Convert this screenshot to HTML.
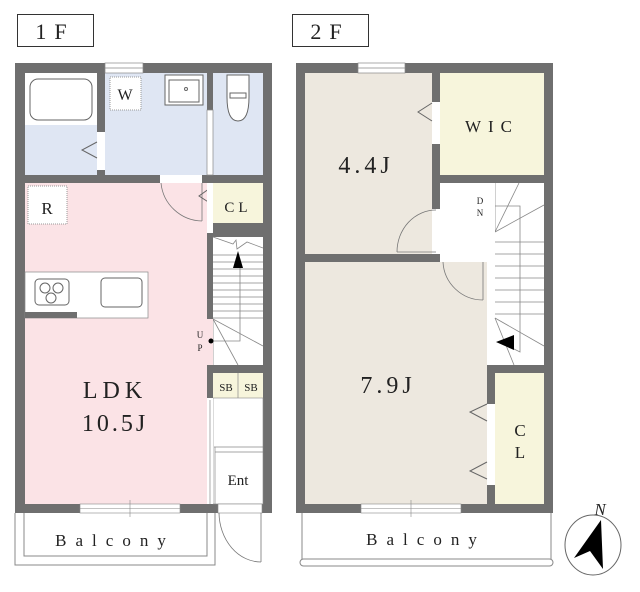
<!DOCTYPE html>
<html><head><meta charset="utf-8"><style>
html,body{margin:0;padding:0;background:#fff;width:640px;height:592px;overflow:hidden}
text{font-family:"Liberation Serif","Noto Serif CJK SC",serif;fill:#222}
</style></head><body>
<svg width="640" height="592" viewBox="0 0 640 592" xmlns="http://www.w3.org/2000/svg">
<!-- titles -->
<rect x="17.5" y="14.5" width="76" height="32" fill="#fff" stroke="#333"/>
<text x="55" y="39" font-size="22" text-anchor="middle" letter-spacing="8">1F</text>
<rect x="292.5" y="14.5" width="76" height="32" fill="#fff" stroke="#333"/>
<text x="330" y="39" font-size="22" text-anchor="middle" letter-spacing="8">2F</text>

<!-- ===== 1F ===== -->
<rect x="15" y="63" width="257" height="450" fill="#6f6f6f"/>
<!-- bath -->
<rect x="25" y="73" width="72" height="102" fill="#dfe6f3"/>
<rect x="25" y="73" width="72" height="52" fill="#fff"/>
<rect x="30" y="79" width="62" height="41" rx="8" fill="#fff" stroke="#666"/>
<rect x="97" y="132" width="8" height="38" fill="#fff"/>
<polyline points="97,142 82,150 97,158" fill="none" stroke="#666"/>
<!-- W -->
<rect x="105" y="73" width="102" height="102" fill="#dfe6f3"/>
<rect x="110" y="77" width="31" height="33" fill="#fff" stroke="#999" stroke-dasharray="1,1"/>
<text x="125" y="100" font-size="16" text-anchor="middle">W</text>
<rect x="165" y="75" width="38" height="30" fill="#fff" stroke="#666"/>
<rect x="169" y="80" width="30" height="22" fill="none" stroke="#666"/>
<circle cx="186" cy="89" r="1.5" fill="none" stroke="#666"/>
<!-- toilet -->
<rect x="213" y="73" width="50" height="102" fill="#dfe6f3"/>
<rect x="207" y="110" width="6" height="65" fill="#fff" stroke="#888" stroke-width="0.7"/>
<path d="M227,75 h22 v22 q0,24 -11,24 q-11,0 -11,-24z" fill="#fff" stroke="#666"/>
<rect x="230" y="93" width="16" height="5" fill="#fff" stroke="#666"/>
<rect x="105" y="63" width="38" height="10" fill="#fff" stroke="#888" stroke-width="0.7"/>
<line x1="105" y1="68" x2="143" y2="68" stroke="#888" stroke-width="0.7"/>
<!-- LDK -->
<rect x="25" y="183" width="182" height="321" fill="#fbe3e6"/>
<rect x="28" y="186" width="39" height="38" fill="#fff" stroke="#999" stroke-dasharray="1,1"/>
<text x="47" y="214" font-size="17" text-anchor="middle">R</text>
<rect x="160" y="175" width="42" height="8" fill="#fff"/>
<path d="M161,183 A42,42 0 0 0 202,221" fill="none" stroke="#777" stroke-width="0.8"/>
<line x1="202" y1="183" x2="202" y2="221" stroke="#777" stroke-width="0.8"/>
<polyline points="213,186 199,196 213,205" fill="none" stroke="#666"/>
<rect x="207" y="183" width="6" height="50" fill="#fff"/>
<!-- CL -->
<rect x="213" y="183" width="50" height="40" fill="#f7f5dc"/>
<text x="238" y="212" font-size="15" text-anchor="middle" letter-spacing="4">CL</text>
<!-- kitchen -->
<rect x="25" y="272" width="123" height="46" fill="#fff" stroke="#888" stroke-width="0.7"/>
<rect x="25" y="312" width="52" height="6" fill="#6f6f6f"/>
<rect x="35" y="279" width="34" height="26" rx="4" fill="#fff" stroke="#666"/>
<circle cx="45" cy="288" r="5" fill="none" stroke="#666"/>
<circle cx="58" cy="288" r="5" fill="none" stroke="#666"/>
<circle cx="51" cy="298" r="5" fill="none" stroke="#666"/>
<rect x="101" y="278" width="41" height="29" rx="4" fill="#fff" stroke="#666"/>
<!-- stairs 1F -->
<rect x="213" y="237" width="50" height="128" fill="#fff"/>
<g stroke="#888" stroke-width="0.8">
<line x1="213" y1="255" x2="263" y2="255"/><line x1="213" y1="262" x2="263" y2="262"/>
<line x1="213" y1="269" x2="263" y2="269"/><line x1="213" y1="276" x2="263" y2="276"/>
<line x1="213" y1="283" x2="263" y2="283"/><line x1="213" y1="290" x2="263" y2="290"/>
<line x1="213" y1="297" x2="263" y2="297"/><line x1="213" y1="304" x2="263" y2="304"/>
<line x1="213" y1="311" x2="263" y2="311"/><line x1="213" y1="318" x2="263" y2="318"/>
<line x1="213" y1="319" x2="263" y2="346"/><line x1="213" y1="319" x2="238" y2="365"/>
<line x1="213" y1="319" x2="213" y2="365"/>
<polyline points="213,237 233,244 236,240 237,249 247,242 263,248" fill="none"/>
<polyline points="211,341 240,341 240,262" fill="none"/>
</g>
<polygon points="238,251 233,268 243,268" fill="#000"/>
<rect x="207" y="319" width="6" height="46" fill="#fbe3e6"/>
<circle cx="211" cy="341" r="2.5" fill="#000"/>
<text x="200" y="338" font-size="9" text-anchor="middle">U</text>
<text x="200" y="351" font-size="9" text-anchor="middle">P</text>
<!-- SB -->
<rect x="213" y="373" width="50" height="25" fill="#f7f5dc"/>
<line x1="238" y1="373" x2="238" y2="398" stroke="#888" stroke-width="0.7"/>
<text x="226" y="391" font-size="11" text-anchor="middle">SB</text>
<text x="251" y="391" font-size="11" text-anchor="middle">SB</text>
<rect x="213" y="398" width="50" height="106" fill="#fff" stroke="#888" stroke-width="0.6"/>
<rect x="207" y="398" width="6" height="106" fill="#fff"/>
<line x1="210" y1="400" x2="210" y2="504" stroke="#888" stroke-width="0.7"/>
<line x1="214" y1="447" x2="263" y2="447" stroke="#888" stroke-width="0.7"/>
<line x1="215" y1="452" x2="263" y2="452" stroke="#888" stroke-width="0.7"/>
<line x1="215" y1="447" x2="215" y2="504" stroke="#888" stroke-width="0.7"/>
<text x="238" y="485" font-size="15" text-anchor="middle">Ent</text>
<rect x="218" y="504" width="44" height="9" fill="#fff" stroke="#888" stroke-width="0.6"/>
<path d="M219,513 A42,50 0 0 0 261,562" fill="none" stroke="#777" stroke-width="0.8"/>
<line x1="261" y1="513" x2="261" y2="562" stroke="#777" stroke-width="0.8"/>
<!-- window bottom -->
<rect x="80" y="504" width="100" height="9" fill="#fff" stroke="#888" stroke-width="0.6"/>
<line x1="80" y1="508.5" x2="180" y2="508.5" stroke="#888" stroke-width="0.6"/>
<line x1="130" y1="500" x2="130" y2="517" stroke="#888" stroke-width="0.6"/>
<text x="115" y="398" font-size="24" text-anchor="middle" letter-spacing="5">LDK</text>
<text x="115" y="431" font-size="24" text-anchor="middle" letter-spacing="3">10.5J</text>
<!-- balcony 1F -->
<polyline points="15,513 15,565 215,565 215,513" fill="none" stroke="#888"/>
<polyline points="24,513 24,556 207,556 207,513" fill="none" stroke="#888"/>
<text x="115" y="546" font-size="17" text-anchor="middle" letter-spacing="9">Balcony</text>

<!-- ===== 2F ===== -->
<rect x="296" y="63" width="257" height="450" fill="#6f6f6f"/>
<rect x="305" y="73" width="127" height="181" fill="#ede8df"/>
<rect x="358" y="63" width="47" height="10" fill="#fff" stroke="#888" stroke-width="0.7"/>
<line x1="358" y1="68" x2="405" y2="68" stroke="#888" stroke-width="0.7"/>
<text x="366" y="173" font-size="24" text-anchor="middle" letter-spacing="4">4.4J</text>
<rect x="432" y="102" width="8" height="42" fill="#fff"/>
<polyline points="432,103 418,112 432,121" fill="none" stroke="#666"/>
<rect x="432" y="209" width="8" height="45" fill="#fff"/>
<path d="M397,252 A39,42 0 0 1 436,210" fill="none" stroke="#777" stroke-width="0.8"/>
<line x1="397" y1="252" x2="436" y2="252" stroke="#777" stroke-width="0.8"/>
<rect x="440" y="73" width="104" height="102" fill="#f7f5dc"/>
<text x="492" y="132" font-size="17" text-anchor="middle" letter-spacing="7">WIC</text>
<!-- stairs 2F -->
<rect x="440" y="183" width="104" height="182" fill="#fff"/>
<rect x="440" y="183" width="104" height="71" fill="#fff"/>
<g stroke="#888" stroke-width="0.8">
<line x1="495" y1="183" x2="495" y2="232"/>
<line x1="495" y1="232" x2="519" y2="183"/>
<line x1="495" y1="232" x2="544" y2="205"/>
<polyline points="493,206 520,206 520,352 500,342" fill="none"/>
<line x1="495" y1="242" x2="544" y2="242"/><line x1="495" y1="254" x2="544" y2="254"/>
<line x1="495" y1="266" x2="544" y2="266"/><line x1="495" y1="278" x2="544" y2="278"/>
<line x1="495" y1="290" x2="544" y2="290"/><line x1="495" y1="302" x2="544" y2="302"/>
<line x1="495" y1="314" x2="544" y2="314"/>
<line x1="495" y1="318" x2="544" y2="346"/><line x1="495" y1="318" x2="514" y2="365"/>
</g>
<polygon points="496,342 514,335 514,350" fill="#000"/>
<circle cx="491" cy="207" r="2.5" fill="#000"/>
<text x="480" y="204" font-size="9" text-anchor="middle">D</text>
<text x="480" y="216" font-size="9" text-anchor="middle">N</text>
<!-- 7.9J -->
<rect x="305" y="262" width="182" height="242" fill="#ede8df"/>
<rect x="487" y="183" width="8" height="49" fill="#fff"/>
<rect x="442" y="254" width="42" height="8" fill="#fff"/>
<path d="M443,262 A40,40 0 0 0 483,300" fill="none" stroke="#777" stroke-width="0.8"/>
<line x1="483" y1="262" x2="483" y2="300" stroke="#777" stroke-width="0.8"/>
<text x="388" y="393" font-size="24" text-anchor="middle" letter-spacing="4">7.9J</text>
<rect x="495" y="373" width="49" height="131" fill="#f7f5dc"/>
<rect x="487" y="404" width="8" height="81" fill="#fff"/>
<polyline points="487,404 470,412 487,421" fill="none" stroke="#666"/>
<polyline points="487,462 470,471 487,479" fill="none" stroke="#666"/>
<text x="520" y="436" font-size="17" text-anchor="middle">C</text>
<text x="520" y="458" font-size="17" text-anchor="middle">L</text>
<rect x="361" y="504" width="100" height="9" fill="#fff" stroke="#888" stroke-width="0.6"/>
<line x1="361" y1="508.5" x2="461" y2="508.5" stroke="#888" stroke-width="0.6"/>
<line x1="411" y1="500" x2="411" y2="517" stroke="#888" stroke-width="0.6"/>
<!-- balcony 2F -->
<polyline points="302,513 302,563 551,563 551,513" fill="none" stroke="#888"/>
<rect x="300" y="559" width="253" height="7" rx="3.5" fill="#fff" stroke="#888"/>
<text x="426" y="545" font-size="17" text-anchor="middle" letter-spacing="9">Balcony</text>
<!-- compass -->
<ellipse cx="593" cy="545" rx="28" ry="30" fill="#fff" stroke="#666"/>
<polygon points="601,520 574,558 590,551 603,569" fill="#000"/>
<text x="600" y="515" font-size="17" font-style="italic" text-anchor="middle">N</text>
</svg>
</body></html>
